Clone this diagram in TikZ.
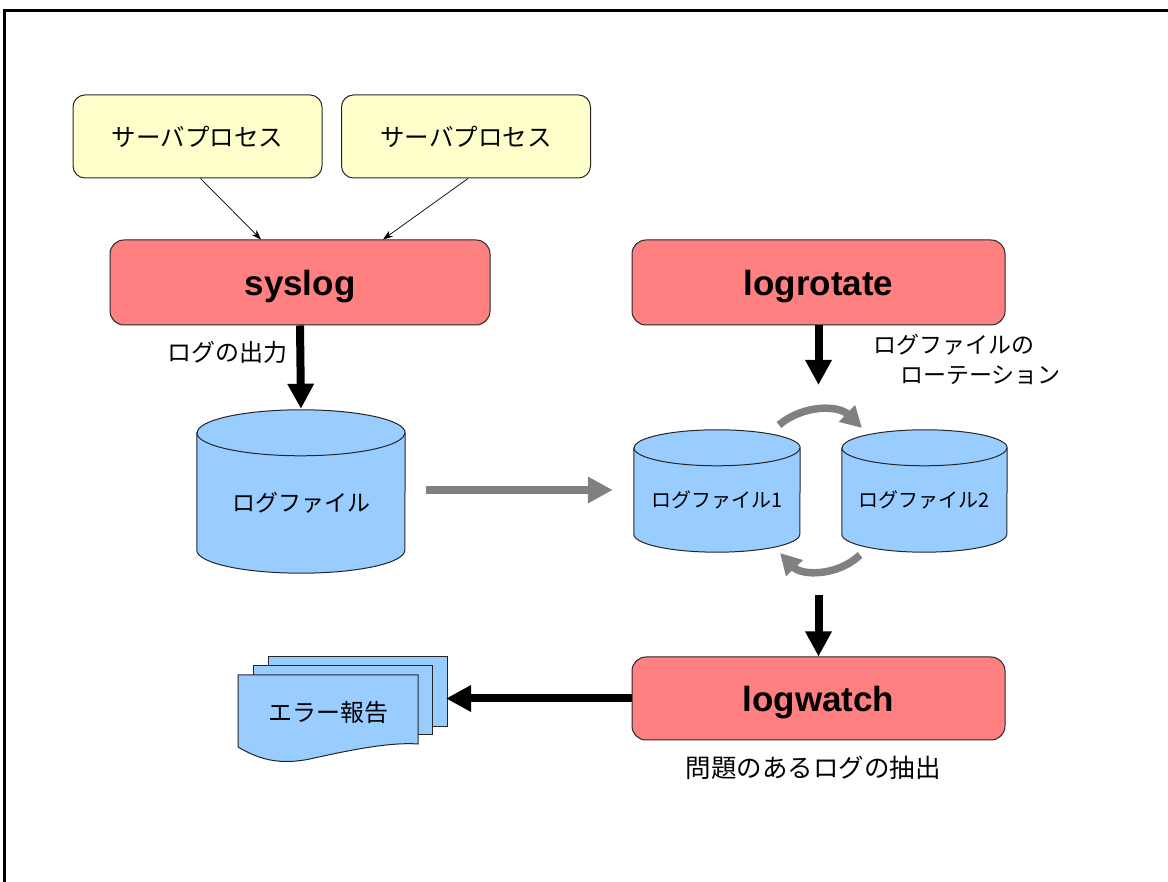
\documentclass[tikz,border=0pt]{standalone}
\usepackage{fontspec}
\newfontfamily\jp{Noto Sans CJK JP}
\newfontfamily\lat{Liberation Sans}
\usetikzlibrary{arrows.meta,backgrounds}
\definecolor{memo}{HTML}{FFFFCC}
\definecolor{proc}{HTML}{FF8080}
\definecolor{store}{HTML}{99CCFF}
\definecolor{flow}{HTML}{808080}

% drum outline around a node spanning from the top ellipse centre to the bottom
% #1 node, #2 x radius, #3 y radius
\newcommand\drumaround[3]{%
  \path[drumbody] (#1.north west) -- ([yshift=#3pt]#1.south west)
    arc[start angle=180,end angle=360,x radius=#2pt,y radius=#3pt]
    -- (#1.north east)
    arc[start angle=0,end angle=180,x radius=#2pt,y radius=#3pt] -- cycle;
  \draw[drumline] (#1.north west)
    arc[start angle=180,end angle=360,x radius=#2pt,y radius=#3pt];
}

\begin{document}
\begin{tikzpicture}[x=1pt,y=1pt,
  jptext/.style={font=\jp\fontsize{23}{28}\selectfont},
  server/.style={font=\jp\fontsize{24.5}{28}\selectfont, draw=black!85, line width=1pt, fill=memo,
    rounded corners=12pt, minimum width=249pt, minimum height=83pt},
  daemon/.style={draw=black!85, line width=1pt, fill=proc, rounded corners=14pt,
    minimum width=378pt, minimum height=85pt, text depth=0pt,
    font=\lat\bfseries\fontsize{35}{40}\selectfont},
  drumtext/.style={jptext, inner sep=0pt},
  drumbody/.style={draw=black!85, line width=1pt, fill=store},
  drumline/.style={draw=black!85, line width=1pt},
  sheet/.style={draw=black!85, line width=1pt, fill=store},
  thinarrow/.style={draw=black, line width=0.7pt, -{Stealth[length=10pt,width=7pt]}},
  bigarrow/.style={draw=black, line width=8pt, -{Triangle[length=25pt,width=25pt]}},
  grayarrow/.style={draw=flow, line width=8pt, -{Triangle[length=25pt,width=25pt]}},
  turnarrow/.style={draw=flow, line width=7.5pt, -{Triangle[length=21pt,width=22pt]}},
  note/.style={jptext, inner sep=0pt}
]
\useasboundingbox (0,0) rectangle (1168,882);
\draw[line width=3pt, line join=miter] (1168,871.5) -- (4.5,871.5) -- (4.5,0);

% processes
\node[server] (srvA) at (197.5,745.5) {サーバプロセス};
\node[server] (srvB) at (466,745.5) {サーバプロセス};
\node[daemon, minimum width=380pt] (syslog) at (300,599.5) {syslog};
\node[daemon, minimum width=373pt] (logrotate) at (818.5,599.5) {logrotate};
\node[daemon, minimum width=373pt, minimum height=83pt] (logwatch) at (818.5,183.5) {logwatch};

% log stores
\node[drumtext, minimum width=208pt, minimum height=140pt] (logfile) at (301,379) {ログファイル};
\node[drumtext, font=\jp\fontsize{20}{24}\selectfont, minimum width=166pt, minimum height=104pt] (log1) at (717,382) {ログファイル1};
\node[drumtext, font=\jp\fontsize{20}{24}\selectfont, minimum width=165pt, minimum height=104pt] (log2) at (924.5,382) {ログファイル2};

% error report
\node[inner sep=0pt, font=\jp\fontsize{24}{28}\selectfont] (report) at (328,170) {エラー報告};

\begin{pgfonlayer}{background}
  \fill[white] (0,0) rectangle (1168,882);
  \drumaround{logfile}{104}{23}
  \drumaround{log1}{83}{18}
  \drumaround{log2}{82.5}{18}
  \path[sheet] (268,155) rectangle (447,225);
  \path[sheet] (253,147) rectangle (432,216);
  \path[sheet] (238,207) -- (418,207) -- (418,138)
    .. controls (390,140) and (350,132) .. (310,123)
    .. controls (280,117) and (260,122) .. (238,135) -- cycle;
\end{pgfonlayer}

% labels
\node[note, font=\jp\fontsize{24}{28}\selectfont, anchor=east] (outLbl) at (288,530) {ログの出力};
\node[note, anchor=west] (rotLblA) at (873,537) {ログファイルの};
\node[note, anchor=west] (rotLblB) at (900,507) {ローテーション};
\node[note, font=\jp\fontsize{25.5}{28}\selectfont] (watchLbl) at (813,114) {問題のあるログの抽出};

% free ends
\coordinate (rotTip) at (818.5,497);
\coordinate (gapTop) at (818.5,287);
\coordinate (reportEdge) at (446,183.5);
\coordinate (turnA1) at (779,457);
\coordinate (turnA2) at (862,454);
\coordinate (turnB1) at (860,327);
\coordinate (turnB2) at (780,329);

% connectors
\draw[thinarrow] ([xshift=3pt]srvA.south) -- ([xshift=-39pt]syslog.north);
\draw[thinarrow] ([xshift=2pt]srvB.south) -- ([xshift=83pt]syslog.north);
\draw[bigarrow] (syslog.south) -- ([yshift=24pt]logfile.north);
\draw[grayarrow, shorten <=21pt, shorten >=21pt]
  ([yshift=13pt]logfile.east) -- ([yshift=13pt]logfile.east -| log1.west);
\draw[bigarrow] (logrotate.south) -- (rotTip);
\draw[turnarrow] (turnA1) to[bend left=42] (turnA2);
\draw[turnarrow] (turnB1) to[bend left=45] (turnB2);
\draw[bigarrow] (gapTop) -- (gapTop |- logwatch.north);
\draw[bigarrow] (logwatch.west) -- (reportEdge);
\end{tikzpicture}
\end{document}
